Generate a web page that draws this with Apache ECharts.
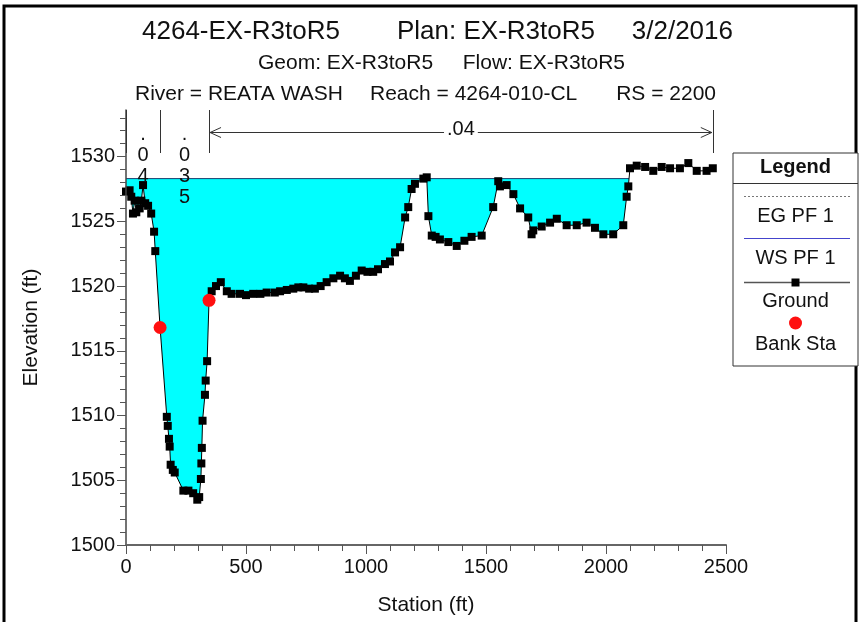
<!DOCTYPE html>
<html>
<head>
<meta charset="utf-8">
<script src="https://cdn.jsdelivr.net/npm/echarts@6.0.0/dist/echarts.min.js"></script>
<style>
  html, body { margin: 0; padding: 0; background: #fff; }
  #eChart { width: 860px; height: 622px; }
</style>
</head>
<body>
<div id="eChart"></div>
<script>
// ground profile, station (ft) / elevation (ft)
const stations = [
  0, 15, 22, 29, 36, 43, 57, 64, 71, 80, 92, 105, 117, 122, 142,
  170, 174, 179, 182, 186, 195, 203, 239, 260, 280, 297, 305,
  312, 314, 316, 319, 329, 332, 338, 346, 357, 375, 395, 420,
  440, 475, 500, 530, 560, 586, 620, 642, 670, 697, 718, 739, 763, 787,
  811, 836, 864, 892, 912, 933, 958, 982, 1006, 1030, 1050, 1079, 1100, 1121, 1142, 1163, 1176,
  1190, 1204, 1239, 1253, 1260, 1274, 1290, 1308, 1343, 1378, 1410, 1440,
  1482, 1530, 1551, 1558, 1586, 1614, 1642, 1676, 1690, 1697, 1732, 1767,
  1795, 1836, 1878, 1919, 1954, 1989, 2030, 2072, 2086, 2093, 2100, 2128,
  2163, 2197, 2232, 2267, 2308, 2343, 2378, 2419, 2445
];
const groundElev = [
  1527.3, 1527.4, 1526.9, 1525.6, 1526.6, 1525.7, 1526.0, 1526.6, 1527.8, 1526.4, 1526.2, 1525.6, 1524.2, 1522.7, 1516.8,
  1509.9, 1509.2, 1508.2, 1507.6, 1506.2, 1505.8, 1505.6, 1504.2, 1504.2, 1504.0, 1503.5, 1503.7,
  1505.1, 1506.3, 1507.5, 1509.6, 1511.6, 1512.7, 1514.2, 1518.9, 1519.6, 1520.0, 1520.3, 1519.6,
  1519.4, 1519.4, 1519.3, 1519.4, 1519.4, 1519.5, 1519.5, 1519.6, 1519.7, 1519.8, 1519.9, 1519.9, 1519.8, 1519.8,
  1520.0, 1520.3, 1520.6, 1520.8, 1520.6, 1520.4, 1520.8, 1521.2, 1521.1, 1521.1, 1521.3, 1521.7, 1521.9, 1522.6, 1523.0, 1525.3, 1526.1,
  1527.5, 1527.9, 1528.3, 1528.4, 1525.4, 1523.9, 1523.8, 1523.6, 1523.4, 1523.1, 1523.5, 1523.8,
  1523.9, 1526.1, 1528.1, 1527.7, 1527.8, 1527.1, 1526.0, 1525.3, 1524.0, 1524.3, 1524.6, 1524.9,
  1525.2, 1524.7, 1524.7, 1524.9, 1524.5, 1524.0, 1524.0, 1524.7, 1526.9, 1527.7, 1529.1, 1529.3,
  1529.2, 1528.9, 1529.2, 1529.1, 1529.1, 1529.5, 1528.9, 1528.9, 1529.1
];

// water surface PF 1
const wsStations = [0, 2096];
const wsElev = [1528.3, 1528.3];

// bank stations
const bankStations = [142, 346];
const bankElev = [1516.8, 1518.9];

// manning's n breaks and values
const nBreaks = [0, 142, 346, 2445];
const nValues = ['.04', '.035', '.04'];

// axis ticks
const yMajorTicks = [1500, 1505, 1510, 1515, 1520, 1525, 1530];
const yMinorTicks = [
  1501, 1502, 1503, 1504, 1506, 1507, 1508, 1509, 1511, 1512, 1513, 1514,
  1516, 1517, 1518, 1519, 1521, 1522, 1523, 1524, 1526, 1527, 1528, 1529,
  1531, 1532, 1533
];

const FONT = '"Liberation Sans", Arial, sans-serif';
const TXT = '#111';

const chart = echarts.init(document.getElementById('eChart'), null, { renderer: 'canvas' });

const ground = stations.map((s, i) => [s, groundElev[i]]);
const ws = wsStations.map((s, i) => [s, wsElev[i]]);
const banks = bankStations.map((s, i) => [s, bankElev[i]]);
const plain = v => String(v);

chart.setOption({
  animation: false,
  backgroundColor: '#fff',
  grid: { left: 126, right: 134, top: 110, bottom: 77, containLabel: false, outerBoundsMode: 'none' },
  xAxis: {
    type: 'value', min: 0, max: 2500, interval: 500, z: 10,
    name: 'Station (ft)', nameLocation: 'middle', nameGap: 50,
    nameTextStyle: { fontFamily: FONT, fontSize: 21, color: TXT },
    axisLine: { show: true, lineStyle: { color: '#666', width: 2 } },
    axisTick: { show: true, length: 9, lineStyle: { color: '#555' } },
    minorTick: { show: true, splitNumber: 5, length: 6, lineStyle: { color: '#555' } },
    axisLabel: { fontFamily: FONT, fontSize: 20, color: TXT, margin: 12, formatter: plain },
    splitLine: { show: false }
  },
  yAxis: [{
    type: 'value', min: 1500, max: 1533.6, position: 'left', z: 10,
    name: 'Elevation (ft)', nameLocation: 'middle', nameGap: 84, nameRotate: 90,
    nameTextStyle: { fontFamily: FONT, fontSize: 21, color: TXT },
    axisLine: { show: true, lineStyle: { color: '#444', width: 1.5 } },
    axisTick: { show: true, length: 9, customValues: yMajorTicks, lineStyle: { color: '#555' } },
    axisLabel: { fontFamily: FONT, fontSize: 20, color: TXT, margin: 11, customValues: yMajorTicks, formatter: plain },
    splitLine: { show: false }
  }, {
    type: 'value', min: 1500, max: 1533.6, position: 'left', z: 10,
    axisLine: { show: false },
    axisTick: { show: true, length: 6, customValues: yMinorTicks, lineStyle: { color: '#555' } },
    axisLabel: { show: false },
    splitLine: { show: false }
  }],
  series: [
    {
      name: 'WS PF 1', type: 'line', data: ws, symbol: 'none', z: 2,
      lineStyle: { color: '#1b3b6b', width: 1 },
      areaStyle: { color: '#00ffff', opacity: 1, origin: 'start' }
    },
    {
      name: 'Ground', type: 'line', data: ground, z: 3,
      symbol: 'rect', symbolSize: 8, showAllSymbol: true,
      itemStyle: { color: '#000', opacity: 1 },
      lineStyle: { color: '#000', width: 1 },
      areaStyle: { color: '#fff', opacity: 1, origin: 'start' }
    },
    {
      name: 'Bank Sta', type: 'scatter', data: banks, z: 5,
      symbol: 'circle', symbolSize: 13,
      itemStyle: { color: '#ff1010', opacity: 1, borderWidth: 0 }
    }
  ]
});

// annotations: n values, header, legend, frame
const px = s => chart.convertToPixel({ gridIndex: 0 }, [s, 1530])[0];
const gridTop = 110;
const els = [];

els.push({ type: 'rect', z: 100, shape: { x: 4, y: 6, width: 852, height: 700 },
  style: { fill: null, stroke: '#000', lineWidth: 3 } });

function txt(x, y, s, size, align, bold) {
  return { type: 'text', z: 100, x: x, y: y,
    style: { text: s, font: (bold ? 'bold ' : '') + size + 'px ' + FONT,
      fill: TXT, textAlign: align || 'center', textVerticalAlign: 'middle' } };
}

// header
els.push(txt(142, 32, '4264-EX-R3toR5', 26, 'left'));
els.push(txt(397, 32, 'Plan: EX-R3toR5', 26, 'left'));
els.push(txt(733, 32, '3/2/2016', 26, 'right'));
els.push(txt(258, 63, 'Geom: EX-R3toR5', 21, 'left'));
els.push(txt(625, 63, 'Flow: EX-R3toR5', 21, 'right'));
els.push(txt(135, 94, 'River = REATA WASH', 21, 'left'));
els.push(txt(370, 94, 'Reach = 4264-010-CL', 21, 'left'));
els.push(txt(716, 94, 'RS = 2200', 21, 'right'));

// n value breaks
nBreaks.forEach(s => {
  const x = Math.round(px(s)) + 0.5;
  els.push({ type: 'line', z: 100, shape: { x1: x, y1: gridTop, x2: x, y2: 153 },
    style: { stroke: '#333', lineWidth: 1 } });
});
nValues.forEach((v, i) => {
  const x1 = px(nBreaks[i]), x2 = px(nBreaks[i + 1]);
  const cx = (x1 + x2) / 2;
  if (x2 - x1 > 120) {
    const y = 132.5;
    els.push({ type: 'polyline', z: 100, shape: { points: [[x1 + 12, y - 5], [x1 + 1, y], [x1 + 12, y + 5]] },
      style: { stroke: '#333', fill: null, lineWidth: 1 } });
    els.push({ type: 'polyline', z: 100, shape: { points: [[x2 - 12, y - 5], [x2 - 1, y], [x2 - 12, y + 5]] },
      style: { stroke: '#333', fill: null, lineWidth: 1 } });
    els.push({ type: 'line', z: 100, shape: { x1: x1 + 1, y1: y, x2: x2 - 1, y2: y },
      style: { stroke: '#333', lineWidth: 1 } });
    els.push({ type: 'text', z: 101, x: cx, y: 129,
      style: { text: v, font: '20px ' + FONT, fill: TXT, textAlign: 'center', textVerticalAlign: 'middle',
        backgroundColor: '#fff', padding: [0, 3] } });
  } else {
    v.split('').forEach((ch, k) => {
      els.push(txt(cx, (ch === '.' ? 134 : 134) + k * 21, ch, 20, 'center'));
    });
  }
});

// legend box
const lx = 733, ly = 153, lw = 125, lh = 213, lc = lx + lw / 2;
els.push({ type: 'rect', z: 100, shape: { x: lx, y: ly, width: lw, height: lh },
  style: { fill: '#fff', stroke: '#333', lineWidth: 1 } });
els.push(txt(lc, 167, 'Legend', 20, 'center', true));
els.push({ type: 'line', z: 101, shape: { x1: lx, y1: 183.5, x2: lx + lw, y2: 183.5 }, style: { stroke: '#333', lineWidth: 1 } });
els.push({ type: 'line', z: 101, shape: { x1: lx + 11, y1: 196.5, x2: lx + lw - 8, y2: 196.5 },
  style: { stroke: '#777', lineWidth: 1, lineDash: [2, 2] } });
els.push(txt(lc, 216, 'EG PF 1', 20, 'center'));
els.push({ type: 'line', z: 101, shape: { x1: lx + 11, y1: 238.5, x2: lx + lw - 8, y2: 238.5 },
  style: { stroke: '#4444cc', lineWidth: 1 } });
els.push(txt(lc, 258, 'WS PF 1', 20, 'center'));
els.push({ type: 'line', z: 101, shape: { x1: lx + 11, y1: 282.5, x2: lx + lw - 8, y2: 282.5 },
  style: { stroke: '#555', lineWidth: 1.5 } });
els.push({ type: 'rect', z: 102, shape: { x: lc - 4, y: 278.5, width: 8, height: 8 }, style: { fill: '#000' } });
els.push(txt(lc, 301, 'Ground', 20, 'center'));
els.push({ type: 'circle', z: 102, shape: { cx: lc, cy: 323, r: 6.5 }, style: { fill: '#ff1010' } });
els.push(txt(lc, 344, 'Bank Sta', 20, 'center'));

chart.setOption({ graphic: { elements: els } });
</script>
</body>
</html>
